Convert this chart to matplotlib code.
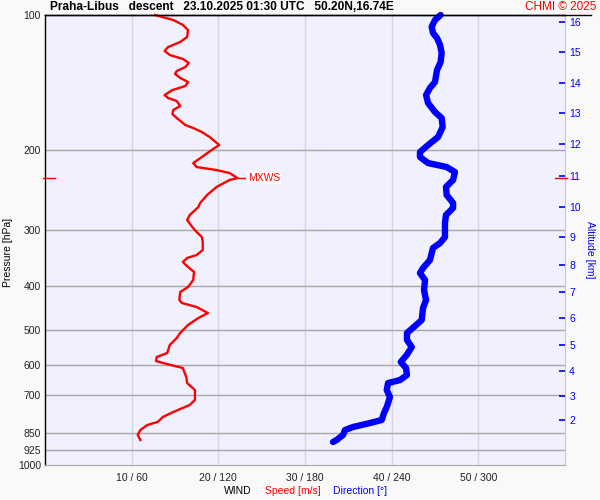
import matplotlib
matplotlib.use("Agg")
import matplotlib.pyplot as plt
from matplotlib.lines import Line2D
from matplotlib.ticker import NullLocator, NullFormatter, FixedLocator, FixedFormatter
import matplotlib.transforms as mtransforms

plt.rcParams['font.family'] = ['Liberation Sans', 'DejaVu Sans']

# ---- data ----
speed_p = [100, 102.6, 105.2, 108.0, 111.9, 114.8, 117.8, 120.2, 122.7, 125.2, 127.8, 130.5,
           133.2, 135.2, 138.0, 140.9, 143.8, 146.8, 150.6, 152.9, 155.3, 159.3, 162.6, 166.0,
           169.4, 175.6, 178.3, 182.0, 186.7, 194.5, 198.5, 206.8, 213.3, 217.7, 221.1, 224.5,
           230.3, 232.6, 241.1, 251.2, 261.7, 267.1, 278.3, 285.5, 295.9, 303.6, 311.5, 319.6,
           332.9, 341.5, 346.7, 353.9, 363.1, 372.5, 388.1, 402.3, 412.7, 429.9, 436.5, 445.6,
           459.4, 471.3, 488.5, 508.9, 522.1, 541.1, 563.8, 575.4, 587.3, 593.4, 608.7, 637.5,
           657.5, 681.4, 717.1, 735.6, 762.4, 782.2, 802.4, 815.0, 836.1, 857.7, 879.9]
speed_ms = [12.7, 14.8, 15.9, 16.5, 16.4, 15.6, 14.2, 13.8, 14.4, 15.9, 16.6, 16.2,
            15.2, 15.0, 15.6, 16.5, 16.2, 14.7, 13.8, 14.2, 15.2, 15.6, 14.8, 14.7,
            15.2, 16.2, 17.1, 18.1, 19.0, 20.1, 19.4, 18.1, 17.1, 17.5, 19.8, 21.3,
            22.2, 21.3, 19.8, 18.7, 17.9, 17.7, 16.7, 16.4, 17.0, 17.5, 18.1, 18.2,
            18.2, 17.5, 16.4, 15.9, 16.5, 17.2, 17.1, 16.5, 15.6, 15.5, 15.8, 17.5,
            18.8, 17.7, 16.5, 15.6, 15.2, 14.4, 14.1, 12.9, 12.8, 13.6, 15.9, 16.3,
            16.4, 17.3, 17.3, 16.7, 14.8, 13.6, 13.0, 11.8, 11.0, 10.7, 11.0]

dir_p = [100, 102.6, 106.2, 109.6, 112.5, 116.6, 121.5, 127.2, 132.5, 140.9, 145.3, 150.6,
         156.9, 164.3, 169.4, 177.4, 186.7, 194.5, 201.6, 206.8, 213.3, 217.7, 223.4, 232.6,
         241.1, 251.2, 261.7, 268.5, 278.3, 290.0, 300.5, 311.5, 321.2, 329.5, 350.4, 365.0,
         374.5, 388.1, 408.4, 429.9, 447.9, 476.2, 491.0, 508.9, 527.5, 546.7, 569.6, 590.3,
         608.7, 631.0, 647.4, 657.5, 681.4, 706.3, 743.2, 766.3, 794.3, 806.7, 823.4, 836.1,
         857.7, 879.9, 889.0]
dir_deg = [273.9, 270.0, 267.7, 268.6, 271.4, 273.5, 274.6, 273.9, 271.4, 270.0, 266.5, 263.8,
           265.2, 270.0, 274.6, 275.3, 272.1, 265.2, 259.6, 259.6, 265.2, 278.1, 283.8, 282.5,
           277.6, 278.1, 282.5, 282.5, 277.6, 276.9, 276.9, 276.9, 273.5, 268.6, 266.5, 261.7,
           259.6, 263.1, 262.4, 263.8, 261.7, 260.8, 256.2, 250.6, 250.6, 253.9, 250.4, 246.3,
           249.9, 250.6, 245.8, 237.5, 236.6, 238.8, 236.6, 234.7, 233.1, 225.0, 213.2, 207.7,
           206.3, 201.9, 199.4]

mxws_speed = 22.2
mxws_p = 230.3

pressure_ticks = [100, 200, 300, 400, 500, 600, 700, 850, 925, 1000]
speed_ticks = [10, 20, 30, 40, 50]
dir_ticks = [60, 120, 180, 240, 300]
alt_km = [2, 3, 4, 5, 6, 7, 8, 9, 10, 11, 12, 13, 14, 15, 16]
alt_p = [794, 701.5, 618, 541, 472, 412, 359.3, 310.9, 266.7, 227.5, 193.5, 165.4, 141.8, 121, 103.5]

title = "Praha-Libus   descent   23.10.2025 01:30 UTC   50.20N,16.74E"

# ---- figure ----
W, H = 600, 500
fig = plt.figure(figsize=(6, 5), dpi=100, facecolor='#F9F9F9')
L, R, T, B = 45, 565, 15, 465
ax = fig.add_axes([L / W, 1 - B / H, (R - L) / W, (B - T) / H])
ax.set_facecolor('#F0F0FF')
ax.set_yscale('log')
ax.set_ylim(1000, 100)
ax.set_xlim(0, 60)

for p in pressure_ticks[1:-1]:
    ax.axhline(p, color='#A8A8A8', lw=1.0, zorder=1)
for s in speed_ticks:
    ax.axvline(s, color='#D6D6E0', lw=1.0, zorder=0.5)

ax.spines['left'].set_color('black')
ax.spines['left'].set_linewidth(1.0)
ax.spines['top'].set_color('black')
ax.spines['top'].set_linewidth(1.0)
ax.spines['right'].set_color('#C8C8D0')
ax.spines['bottom'].set_color('#A8A8A8')

fig.add_artist(Line2D([L / W, 591 / W], [1 - T / H, 1 - T / H], color='black', lw=1.0))

ax.plot(speed_ms, speed_p, color='red', lw=1.7, zorder=4, clip_on=False)

# MXWS
ax.plot([mxws_speed, mxws_speed + 0.9], [mxws_p, mxws_p], color='red', lw=1.0, zorder=4)
ax.text(mxws_speed + 1.2, mxws_p, "MXWS", color='red', fontsize=7.5, va='center', ha='left',
        zorder=5, bbox=dict(boxstyle='square,pad=0.1', fc='white', ec='none'))
trans = mtransforms.blended_transform_factory(ax.transAxes, ax.transData)
ax.plot([-2 / 520, 10 / 520], [mxws_p, mxws_p], color='red', lw=1.0, transform=trans, clip_on=False, zorder=6)
ax.plot([510 / 520, 522 / 520], [mxws_p, mxws_p], color='red', lw=1.0, transform=trans, clip_on=False, zorder=6)

# direction
ax2 = ax.twiny()
ax2.set_xlim(0, 360)
ax2.plot(dir_deg, dir_p, color='blue', lw=4.6, solid_capstyle='round', solid_joinstyle='round',
         clip_on=False)
ax2.set_axis_off()

# altitude axis
ax3 = ax.twinx()
ax3.set_yscale('log')
ax3.set_ylim(1000, 100)
ax3.yaxis.set_major_locator(FixedLocator(alt_p))
ax3.yaxis.set_major_formatter(FixedFormatter([str(k) for k in alt_km]))
ax3.yaxis.set_minor_locator(NullLocator())
ax3.yaxis.set_minor_formatter(NullFormatter())
ax3.tick_params(axis='y', direction='in', length=4.5, width=1.2, colors='blue', pad=3, labelsize=7.5)
for sp in ax3.spines.values():
    sp.set_visible(False)

# pressure / wind ticks (set after twins)
ax.set_ylim(1000, 100)
ax.yaxis.set_major_locator(FixedLocator(pressure_ticks))
ax.yaxis.set_major_formatter(FixedFormatter([str(p) for p in pressure_ticks]))
ax.yaxis.set_minor_locator(NullLocator())
ax.yaxis.set_minor_formatter(NullFormatter())
ax.xaxis.set_major_locator(FixedLocator(speed_ticks))
ax.xaxis.set_major_formatter(FixedFormatter([f"{s} / {d}" for s, d in zip(speed_ticks, dir_ticks)]))
ax.tick_params(axis='y', length=0, pad=3, labelsize=7.5, colors='#222222')
ax.tick_params(axis='x', length=0, pad=6, labelsize=7.5, colors='#222222')

# labels
fig.text(50 / W, 1 - 7 / H, title, fontsize=8.6, fontweight='bold', ha='left', va='center')
fig.text(596 / W, 1 - 7 / H, "CHMI © 2025", fontsize=8.5, color='red', ha='right', va='center')
fig.text(8 / W, 1 - 252 / H, "Pressure [hPa]", fontsize=7.5, rotation=90, ha='center', va='center')
fig.text(590 / W, 1 - 250 / H, "Altitude [km]", fontsize=7.5, rotation=270, color='blue',
         ha='center', va='center')
fig.text(238 / W, 1 - 491 / H, "WIND", fontsize=7.5, ha='center', va='center')
fig.text(293 / W, 1 - 491 / H, "Speed [m/s]", fontsize=7.5, color='red', ha='center', va='center')
fig.text(360 / W, 1 - 491 / H, "Direction [°]", fontsize=7.5, color='blue', ha='center', va='center')

fig.savefig("out.png", dpi=100, facecolor=fig.get_facecolor())
